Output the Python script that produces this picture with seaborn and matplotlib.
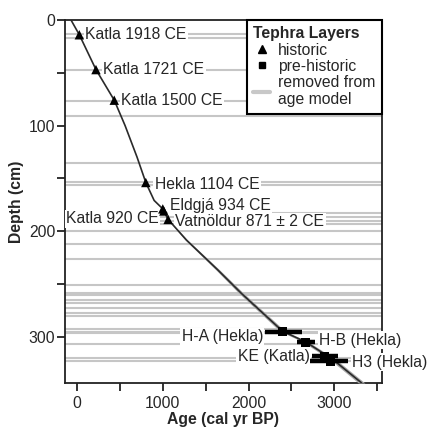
import numpy as np
import pandas as pd
import seaborn as sns
import matplotlib.pyplot as plt
from matplotlib.lines import Line2D
from matplotlib.ticker import MultipleLocator

# ---------------- data ----------------
model_age = [-70, 27, 221, 434, 560, 700, 802, 899, 1000, 1062, 1275, 1643, 1915, 2397, 2665, 2987, 3318]
model_depth = [0, 14, 47, 76, 100, 130, 154, 171, 179, 189, 208.5, 237, 259, 295, 305, 322, 344]
model_err = [0, 0, 0, 0, 0, 0, 0, 0, 0, 5, 14, 22, 28, 32, 34, 36, 38]

hist_names = ["Katla 1918 CE", "Katla 1721 CE", "Katla 1500 CE", "Hekla 1104 CE",
              "Eldgjá 934 CE", "Katla 920 CE", "Vatnöldur 871 ± 2 CE"]
hist_age = [27, 221, 434, 802, 1000, 1012, 1062]
hist_depth = [14, 47, 76, 154, 179, 181, 189]

pre_names = ["H-A (Hekla)", "H-B (Hekla)", "KE (Katla)", "H3 (Hekla)"]
pre_age = [2397, 2665, 2890, 2949]
pre_depth = [295.3, 305.4, 318.7, 323.5]
pre_lo = [2191, 2568, 2735, 2716]
pre_hi = [2619, 2774, 3045, 3162]

removed_depth = [13.6, 16.8, 47.5, 76.9, 91.1, 135.1, 153.5, 156.7, 183, 186.7, 190.5,
                 193.7, 200.3, 212, 226.2, 251.6, 258.9, 260.4, 265.2, 268.4, 272.8,
                 277.2, 280.1, 292.7, 295.3, 296.9, 307, 320.2, 322.8]

x_ticks = [0, 1000, 2000, 3000]
y_ticks = [0, 100, 200, 300]

# ---------------- style ----------------
FS = 11.3
sns.set_theme(style="ticks")
plt.rcParams['font.family'] = ['Liberation Sans', 'DejaVu Sans']
plt.rcParams['font.size'] = FS

fig = plt.figure(figsize=(4.30, 4.28), dpi=100)
ax = fig.add_axes([65 / 430, 1 - 383 / 428, (382 - 65) / 430, (383 - 20) / 428])

# removed layers (grey lines)
for d in removed_depth:
    ax.axhline(d, color='#c6c6c6', lw=1.5, zorder=1)

# age model
model = pd.DataFrame({'age': model_age, 'depth': model_depth, 'err': model_err})
ax.fill_betweenx(model['depth'], model['age'] - model['err'], model['age'] + model['err'],
                 color='#a8a8a8', lw=0, zorder=4)
sns.lineplot(data=model, x='age', y='depth', sort=False, estimator=None,
             color='#2a2a2a', lw=1.2, ax=ax, zorder=5)

# historic tephra
hist = pd.DataFrame({'age': hist_age, 'depth': hist_depth, 'name': hist_names})
sns.scatterplot(data=hist, x='age', y='depth', marker='^', color='black', s=46,
                edgecolor='none', ax=ax, zorder=6)

hist_offsets = [(6, 0, 'left'), (7, 0, 'left'), (7, 0, 'left'), (9, -2, 'left'),
                (7, 3, 'left'), (-5, -8, 'right'), (7, -2, 'left')]
for (name, a, d), (dx, dy, ha) in zip(zip(hist_names, hist_age, hist_depth), hist_offsets):
    ax.annotate(name, (a, d), xytext=(dx, dy), textcoords='offset pixels',
                ha=ha, va='center', fontsize=FS, zorder=3,
                bbox=dict(fc='white', ec='none', pad=1.0))

# pre-historic tephra
pre = pd.DataFrame({'age': pre_age, 'depth': pre_depth, 'lo': pre_lo, 'hi': pre_hi})
ax.hlines(pre['depth'], pre['lo'], pre['hi'], color='black', lw=3.2, zorder=6)
sns.scatterplot(data=pre, x='age', y='depth', marker='s', color='black', s=42,
                edgecolor='none', ax=ax, zorder=7)

pre_layout = [('lo', -2, -5, 'right'), ('hi', 4, 2, 'left'),
              ('lo', -2, 0, 'right'), ('hi', 4, -1, 'left')]
for i, (key, dx, dy, ha) in enumerate(pre_layout):
    ax.annotate(pre_names[i], (pre[key][i], pre_depth[i]), xytext=(dx, dy),
                textcoords='offset pixels', ha=ha, va='center', fontsize=FS, zorder=3,
                bbox=dict(fc='white', ec='none', pad=1.0))

# axes
ax.set_xlim(-140, 3555)
ax.set_ylim(344, 0)
ax.set_xticks(x_ticks)
ax.set_yticks(y_ticks)
ax.xaxis.set_minor_locator(MultipleLocator(500))
ax.yaxis.set_minor_locator(MultipleLocator(50))
ax.tick_params(which='both', direction='out', length=6, width=1.3, color='#222222')
ax.tick_params(axis='x', which='major', labelsize=FS, pad=3)
ax.tick_params(axis='y', which='major', labelsize=FS, pad=1)
for sp in ax.spines.values():
    sp.set_visible(True)
    sp.set_color('#222222')
    sp.set_linewidth(1.3)

ax.set_xlabel('Age (cal yr BP)', fontsize=FS, fontweight='bold', labelpad=1)
ax.set_ylabel('Depth (cm)', fontsize=FS, fontweight='bold', labelpad=3)

# legend
handles = [
    Line2D([], [], marker='^', color='black', ls='none', markersize=5.5, label='historic'),
    Line2D([], [], marker='s', color='black', ls='none', markersize=4.8, label='pre-historic'),
    Line2D([], [], color='#c8c8c8', lw=3, label='removed from\nage model'),
]
leg = ax.legend(handles=handles, loc='upper right', bbox_to_anchor=(1, 1), borderaxespad=0,
                title='Tephra Layers', title_fontproperties={'weight': 'bold', 'size': FS},
                fontsize=FS, frameon=True, fancybox=False, handlelength=1.1,
                handletextpad=0.5, labelspacing=0.08, borderpad=0.4, alignment='left')
leg.get_frame().set_edgecolor('black')
leg.get_frame().set_linewidth(1.5)
leg.get_frame().set_alpha(1)
leg.set_zorder(10)

fig.savefig('out.png', dpi=100)
